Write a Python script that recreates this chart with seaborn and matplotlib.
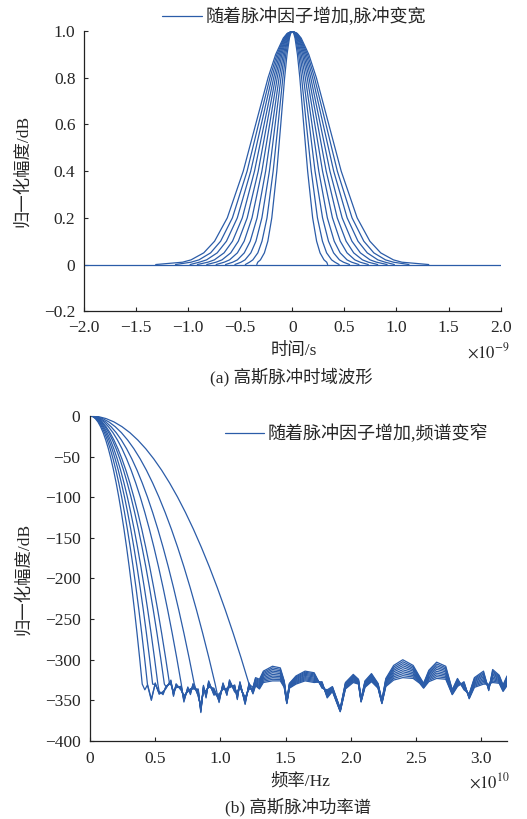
import numpy as np
import pandas as pd
import matplotlib
matplotlib.use('Agg')
import matplotlib.pyplot as plt
import seaborn as sns

# ---- (a) time-domain pulses (units: 1e-9 s) ----
pulse_levels = [0.01, 0.02, 0.05, 0.1, 0.2, 0.4, 0.6, 0.8, 0.9, 0.97, 0.99]
pulse_halfwidths = [
    [0.331, 0.305, 0.267, 0.234, 0.196, 0.148, 0.110, 0.073, 0.050, 0.027, 0.015],
    [0.410, 0.378, 0.330, 0.290, 0.242, 0.183, 0.136, 0.090, 0.062, 0.033, 0.019],
    [0.492, 0.453, 0.397, 0.348, 0.291, 0.219, 0.164, 0.108, 0.074, 0.040, 0.023],
    [0.571, 0.526, 0.460, 0.403, 0.337, 0.255, 0.190, 0.126, 0.086, 0.046, 0.027],
    [0.653, 0.601, 0.526, 0.461, 0.386, 0.291, 0.217, 0.144, 0.099, 0.053, 0.031],
    [0.731, 0.674, 0.590, 0.517, 0.432, 0.326, 0.244, 0.161, 0.111, 0.060, 0.034],
    [0.810, 0.747, 0.654, 0.573, 0.479, 0.362, 0.270, 0.178, 0.123, 0.066, 0.038],
    [0.892, 0.822, 0.720, 0.631, 0.527, 0.398, 0.297, 0.196, 0.135, 0.073, 0.042],
    [0.971, 0.895, 0.783, 0.687, 0.574, 0.433, 0.324, 0.214, 0.147, 0.079, 0.045],
    [1.053, 0.971, 0.849, 0.745, 0.623, 0.470, 0.351, 0.232, 0.159, 0.086, 0.049],
]
pulse_ends = [0.34, 0.45, 0.55, 0.64, 0.73, 0.82, 0.91, 0.98, 1.12, 1.31]
baseline_t = [-2.0, 2.0]
baseline_amp = [0.0, 0.0]

# ---- (b) power spectra (units: 1e10 Hz, dB) ----
spec_frac = [0.0, 0.05, 0.1, 0.15, 0.2, 0.25, 0.3, 0.35, 0.4, 0.45, 0.5,
             0.55, 0.6, 0.65, 0.7, 0.75, 0.8, 0.85, 0.9, 0.95, 1.0]
spec_shape_db = [0, -0.8, -3.3, -7.4, -13.2, -20.6, -29.7, -40.4, -52.8, -66.8, -82.5,
                 -99.8, -118.8, -139.4, -161.7, -185.6, -211.2, -238.4, -267.3, -297.8, -330]
spec_corner = [0.40, 0.44, 0.48, 0.52, 0.57, 0.61, 0.70, 0.80, 0.96, 1.22]
curve_rank = [-0.5, -0.39, -0.28, -0.17, -0.06, 0.06, 0.17, 0.28, 0.39, 0.5]

floor_f = [0.38, 0.40, 0.42, 0.44, 0.47, 0.50, 0.53, 0.56, 0.58, 0.62, 0.64, 0.66, 0.70,
           0.72, 0.75, 0.77, 0.79, 0.83, 0.85, 0.87, 0.89, 0.91, 0.95, 0.99, 1.02, 1.05,
           1.07, 1.11, 1.13, 1.15, 1.19, 1.22, 1.25, 1.27, 1.30, 1.33, 1.40, 1.46, 1.49,
           1.51, 1.53, 1.58, 1.65, 1.72, 1.78, 1.82, 1.86, 1.92, 1.96, 2.02, 2.06, 2.08,
           2.11, 2.16, 2.21, 2.24, 2.27, 2.33, 2.40, 2.48, 2.53, 2.56, 2.60, 2.66, 2.73,
           2.78, 2.82, 2.87, 2.91, 2.95, 3.02, 3.06, 3.09, 3.14, 3.17, 3.20]
floor_db = [-330, -334, -331, -336, -343, -333, -337, -345, -332, -330, -339, -334, -333,
            -350, -335, -341, -331, -342, -360, -336, -341, -331, -338, -348, -332, -340,
            -329, -336, -343, -331, -350, -333, -338, -327, -330, -321, -317, -318, -330,
            -352, -332, -325, -320, -322, -331, -342, -336, -362, -332, -323, -327, -350,
            -330, -322, -332, -352, -328, -316, -311, -315, -325, -332, -320, -313, -316,
            -340, -328, -332, -345, -328, -322, -334, -320, -324, -335, -326]
floor_spread = [10, -8, 12, -10, 14, -9, 11, -12, 8, -10, 12, -9, 10,
                -12, 9, -11, 10, -12, 10, -9, 12, -10, 11, -12, 9, -10,
                11, -10, 12, -8, 10, -9, 8, 10, 12, 14, 18, 16, 8,
                4, 6, 10, 12, 12, -8, 10, 6, 4, 8, 10, 6, 4,
                8, 10, 6, 4, 10, 18, 22, 16, 8, 6, 14, 20, 16,
                6, 10, -10, 6, 12, 16, -8, 16, 10, 8, 12]

line_color = '#2b5ca8'

# build long tables
rows = []
for i, (hw, end) in enumerate(zip(pulse_halfwidths, pulse_ends)):
    t = [-end] + [-w for w in hw] + [0.0] + [w for w in reversed(hw)] + [end]
    a = [0.0] + pulse_levels + [1.0] + list(reversed(pulse_levels)) + [0.0]
    for tt, aa in zip(t, a):
        rows.append((i, tt, aa))
pulses = pd.DataFrame(rows, columns=['curve', 't', 'amp'])

rows = []
for i, (fc, rk) in enumerate(zip(spec_corner, curve_rank)):
    for fr, db in zip(spec_frac, spec_shape_db):
        rows.append((i, fr * fc, db))
    for f, db, sp in zip(floor_f, floor_db, floor_spread):
        if f > fc:
            rows.append((i, f, db + rk * sp))
spectra = pd.DataFrame(rows, columns=['curve', 'f', 'db'])

sns.set_style('ticks')
plt.rcParams['font.family'] = ['Liberation Serif', 'Noto Sans CJK SC']
plt.rcParams['mathtext.fontset'] = 'stix'
plt.rcParams['axes.unicode_minus'] = True

fig = plt.figure(figsize=(5.27, 8.19), dpi=100)
ax1 = fig.add_axes([0.159, 0.620, 0.791, 0.342])
ax2 = fig.add_axes([0.171, 0.0952, 0.791, 0.397])

def fmt1(v, pos):
    if abs(v) < 1e-9:
        return '0'
    return f'{v:.1f}'.replace('-', '\u2212')

def fmt0(v, pos):
    return f'{v:.0f}'.replace('-', '\u2212')

# (a)
sns.lineplot(data=pulses, x='t', y='amp', units='curve', estimator=None, sort=False,
             color=line_color, linewidth=0.9, ax=ax1, legend=False)
sns.lineplot(x=baseline_t, y=baseline_amp, color=line_color, linewidth=0.9, ax=ax1,
             label='随着脉冲因子增加,脉冲变宽')
ax1.set_xlim(-2, 2)
ax1.set_ylim(-0.2, 1.0)
ax1.set_xticks(np.arange(-2, 2.01, 0.5))
ax1.set_yticks(np.arange(-0.2, 1.01, 0.2))
ax1.xaxis.set_major_formatter(plt.FuncFormatter(fmt1))
ax1.yaxis.set_major_formatter(plt.FuncFormatter(fmt1))
ax1.set_xlabel('时间/s', fontsize=12.5)
ax1.set_ylabel('归一化幅度/dB', fontsize=12.5)
ax1.xaxis.set_label_coords(0.504, -0.112)
ax1.yaxis.set_label_coords(-0.127, 0.5)
ax1.legend(loc='center', bbox_to_anchor=(0.505, 1.05), frameon=False, fontsize=13,
           handlelength=2.2, handletextpad=0.2, borderaxespad=0)
ax1.text(0.971, -0.146, r'$\times10^{-9}$', transform=ax1.transAxes, ha='center',
         va='center', fontsize=12)
ax1.text(0.498, -0.236, '(a) 高斯脉冲时域波形', transform=ax1.transAxes, ha='center',
         va='center', fontsize=12.5)

# (b)
sns.lineplot(data=spectra, x='f', y='db', units='curve', estimator=None, sort=False,
             color=line_color, linewidth=0.9, ax=ax2, legend=False)
ax2.plot([], [], color=line_color, linewidth=0.9, label='随着脉冲因子增加,频谱变窄')
ax2.set_xlim(0, 3.2)
ax2.set_ylim(-400, 0)
ax2.set_xticks(np.arange(0, 3.01, 0.5))
ax2.set_yticks(np.arange(-400, 1, 50))
ax2.xaxis.set_major_formatter(plt.FuncFormatter(fmt1))
ax2.yaxis.set_major_formatter(plt.FuncFormatter(fmt0))
ax2.set_xlabel('频率/Hz', fontsize=12.5)
ax2.set_ylabel('归一化幅度/dB', fontsize=12.5)
ax2.xaxis.set_label_coords(0.504, -0.098)
ax2.yaxis.set_label_coords(-0.139, 0.5)
ax2.legend(loc='center', bbox_to_anchor=(0.639, 0.944), frameon=False, fontsize=13,
           handlelength=2.2, handletextpad=0.2, borderaxespad=0)
ax2.text(0.959, -0.126, r'$\times10^{10}$', transform=ax2.transAxes, ha='center',
         va='center', fontsize=12)
ax2.text(0.498, -0.203, '(b) 高斯脉冲功率谱', transform=ax2.transAxes, ha='center',
         va='center', fontsize=12.5)

for ax in (ax1, ax2):
    sns.despine(ax=ax)
    ax.tick_params(direction='in', length=3, width=0.8, labelsize=12.5)
    for s in ('left', 'bottom'):
        ax.spines[s].set_linewidth(0.9)
        ax.spines[s].set_color('#222222')
ax1.tick_params(axis='x', pad=6)
ax1.tick_params(axis='y', pad=6)
ax2.tick_params(axis='x', pad=7)
ax2.tick_params(axis='y', pad=7)

fig.savefig('out.png', dpi=100)
